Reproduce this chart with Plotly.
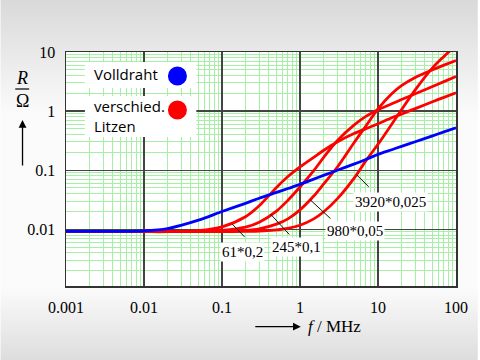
import base64
import math
import plotly.graph_objects as go

# ---------------- data ----------------
freq_MHz = [0.001, 0.005, 0.01, 0.02, 0.05, 0.1, 0.2, 0.3, 0.5, 0.7, 1, 1.5, 2, 3, 5, 7,
            10, 15, 20, 30, 50, 70, 100]

R_volldraht = [0.0092, 0.0092, 0.0094, 0.0103, 0.0143, 0.0200, 0.0275, 0.0335, 0.042, 0.049,
               0.0575, 0.0705, 0.0815, 0.0995, 0.128, 0.152, 0.185, 0.222, 0.253, 0.303,
               0.381, 0.444, 0.52]
R_61x02 = [0.0091, 0.0091, 0.0091, 0.0091, 0.0095, 0.011, 0.0163, 0.025, 0.051, 0.078,
           0.114, 0.165, 0.215, 0.30, 0.42, 0.505, 0.61, 0.77, 0.89, 1.1, 1.44, 1.71, 2.04]
R_245x01 = [0.0091, 0.0091, 0.0091, 0.0091, 0.0092, 0.0096, 0.0109, 0.0132, 0.0203, 0.031,
            0.052, 0.098, 0.163, 0.314, 0.59, 0.815, 1.054, 1.33, 1.57, 1.96, 2.61, 3.15, 3.85]
R_980x005 = [0.0091, 0.0091, 0.0091, 0.0091, 0.0091, 0.0092, 0.0096, 0.0102, 0.0122, 0.015,
             0.0213, 0.0365, 0.058, 0.112, 0.30, 0.56, 1.09, 1.97, 2.7, 3.71, 5.0, 5.99, 7.2]
R_3920x0025 = [0.0091, 0.0091, 0.0091, 0.0091, 0.0091, 0.0091, 0.0092, 0.0093, 0.0098, 0.0104,
               0.0117, 0.015, 0.0196, 0.0327, 0.075, 0.145, 0.274, 0.6, 1.05, 2.29, 5.4, 8.4, 13.0]

litz_series = [R_61x02, R_245x01, R_980x005, R_3920x0025]

x_tick_vals = [0.001, 0.01, 0.1, 1, 10, 100]
x_tick_text = ["0.001", "0.01", "0.1", "1", "10", "100"]
y_tick_vals = [0.01, 0.1, 1, 10]
y_tick_text = ["0.01", "0.1", "1", "10"]

label_text = ["61*0,2", "245*0,1", "980*0,05", "3920*0,025"]
label_f = [0.181, 0.91, 5.0, 14.4]
label_R = [0.00414, 0.00502, 0.00936, 0.0289]
leader_f = [0.135, 0.42, 1.36, 5.35]
leader_R = [0.0123, 0.0180, 0.0313, 0.083]
leader_dx = [13.7, 20, 21.6, 13.4]
leader_dy = [14.3, 21.7, 20, 13.3]

legend_solid = "Volldraht"
legend_litz = "verschied.<br>Litzen"

# ---------------- figure ----------------
W, H = 480, 360
ML, MR, MT, MB = 66, 22, 52, 74
PW, PH = W - ML - MR, H - MT - MB

fig = go.Figure()
for s in litz_series:
    fig.add_trace(go.Scatter(x=freq_MHz, y=s, mode="lines",
                             line=dict(color="#ff0000", width=2.8, shape="spline", smoothing=0.8),
                             hoverinfo="skip"))
fig.add_trace(go.Scatter(x=freq_MHz, y=R_volldraht, mode="lines",
                         line=dict(color="#0000ff", width=2.8, shape="spline", smoothing=0.8),
                         hoverinfo="skip"))

minor_vals = [m * 10 ** e for e in range(-4, 3) for m in range(2, 10)]

serif = "Liberation Serif"
axis_common = dict(
    type="log", showgrid=True, gridcolor="#444444", gridwidth=1.2,
    showline=True, linecolor="#333333", linewidth=1.5, mirror=True,
    zeroline=False, ticks="", tickfont=dict(family=serif, size=16, color="black"),
    minor=dict(tickmode="array", tickvals=minor_vals, showgrid=True,
               gridcolor="rgb(165,240,165)", gridwidth=1, ticks=""),
)
fig.update_xaxes(range=[-3, 2], tickmode="array", tickvals=x_tick_vals, ticktext=x_tick_text,
                 ticklabelstandoff=6, **axis_common)
fig.update_yaxes(range=[-2.96, 1.0], tickmode="array", tickvals=y_tick_vals, ticktext=y_tick_text,
                 ticklabelstandoff=6, **axis_common)

# background gradient (page) + white plot area
svg = (f'<svg xmlns="http://www.w3.org/2000/svg" width="{W}" height="{H}">'
       '<defs><linearGradient id="g" x1="0" y1="0" x2="0" y2="1">'
       '<stop offset="0" stop-color="#d9d9d9"/><stop offset="0.32" stop-color="#fbfbfb"/>'
       '<stop offset="0.8" stop-color="#fbfbfb"/><stop offset="1" stop-color="#dddddd"/>'
       '</linearGradient></defs>'
       f'<rect width="{W}" height="{H}" fill="url(#g)"/>'
       f'<rect x="{ML}" y="{MT}" width="{PW}" height="{PH}" fill="#ffffff"/></svg>')
uri = "data:image/svg+xml;base64," + base64.b64encode(svg.encode()).decode()

def px(xp):
    return (xp - ML) / PW

def py(yp):
    return (H - MB - yp) / PH

annotations = []
# curve labels and leader lines
for t, lf, lr, tf, tr, dx, dy in zip(label_text, label_f, label_R, leader_f, leader_R,
                                      leader_dx, leader_dy):
    annotations.append(dict(x=math.log10(tf), y=math.log10(tr), xref="x", yref="y", text="",
                            showarrow=True, arrowhead=0, arrowwidth=1, arrowcolor="#111111",
                            ax=dx, ay=dy, standoff=0))
    annotations.append(dict(x=math.log10(lf), y=math.log10(lr), xref="x", yref="y", text=t,
                            showarrow=False, bgcolor="white", borderpad=1,
                            xanchor="center", yanchor="middle",
                            font=dict(family=serif, size=15, color="black")))

# legend texts
sans = "Open Sans"
annotations.append(dict(x=px(92), y=py(74), xref="paper", yref="paper", text=legend_solid,
                        showarrow=False, xanchor="left", yanchor="middle",
                        font=dict(family=sans, size=15, color="black")))
annotations.append(dict(x=px(92), y=py(116), xref="paper", yref="paper", text=legend_litz,
                        showarrow=False, xanchor="left", yanchor="middle", align="left",
                        font=dict(family=sans, size=15, color="black")))

# axis titles
annotations.append(dict(x=px(22), y=py(78), xref="paper", yref="paper", text="<i>R</i>",
                        showarrow=False, xanchor="center", yanchor="middle",
                        font=dict(family=serif, size=18, color="black")))
annotations.append(dict(x=px(22), y=py(101), xref="paper", yref="paper", text="Ω",
                        showarrow=False, xanchor="center", yanchor="middle",
                        font=dict(family=serif, size=18, color="black")))
annotations.append(dict(x=px(22.3), y=py(120), xref="paper", yref="paper", text="",
                        showarrow=True, arrowhead=2, arrowsize=1.2, arrowwidth=1.3,
                        arrowcolor="black", ax=0, ay=47, standoff=0))
annotations.append(dict(x=px(302), y=py(326.7), xref="paper", yref="paper", text="",
                        showarrow=True, arrowhead=2, arrowsize=1.2, arrowwidth=1.3,
                        arrowcolor="black", ax=-47, ay=0, standoff=0))
annotations.append(dict(x=px(307), y=py(326), xref="paper", yref="paper",
                        text="<i>f</i> / MHz", showarrow=False, xanchor="left", yanchor="middle",
                        font=dict(family=serif, size=17, color="black")))

shapes = [
    # legend backgrounds
    dict(type="rect", xref="paper", yref="paper", x0=px(85), x1=px(197), y0=py(88), y1=py(62),
         fillcolor="white", line=dict(width=0), layer="above"),
    dict(type="rect", xref="paper", yref="paper", x0=px(85), x1=px(197), y0=py(137), y1=py(96),
         fillcolor="white", line=dict(width=0), layer="above"),
    # legend markers
    dict(type="circle", xref="paper", yref="paper", xsizemode="pixel", ysizemode="pixel",
         xanchor=px(178), yanchor=py(76), x0=-9.5, x1=9.5, y0=-9.5, y1=9.5,
         fillcolor="#0000ff", line=dict(width=0), layer="above"),
    dict(type="circle", xref="paper", yref="paper", xsizemode="pixel", ysizemode="pixel",
         xanchor=px(178), yanchor=py(110), x0=-9.5, x1=9.5, y0=-9.5, y1=9.5,
         fillcolor="#ff0000", line=dict(width=0), layer="above"),
    # fraction bar R / Ω
    dict(type="line", xref="paper", yref="paper", x0=px(15), x1=px(29), y0=py(89), y1=py(89),
         line=dict(color="black", width=1.2)),
]

fig.update_layout(
    width=W, height=H, margin=dict(l=ML, r=MR, t=MT, b=MB, pad=0),
    paper_bgcolor="white", plot_bgcolor="rgba(0,0,0,0)", showlegend=False,
    annotations=annotations, shapes=shapes,
    images=[dict(source=uri, xref="paper", yref="paper", x=-ML / PW, y=1 + MT / PH,
                 sizex=W / PW, sizey=H / PH, xanchor="left", yanchor="top",
                 sizing="stretch", layer="below")],
)

fig.write_html("out.html",
               config={"displayModeBar": False, "staticPlot": True},
               post_script="document.body.style.margin='0';document.body.style.padding='0';"
                           "document.body.style.overflow='hidden';")
